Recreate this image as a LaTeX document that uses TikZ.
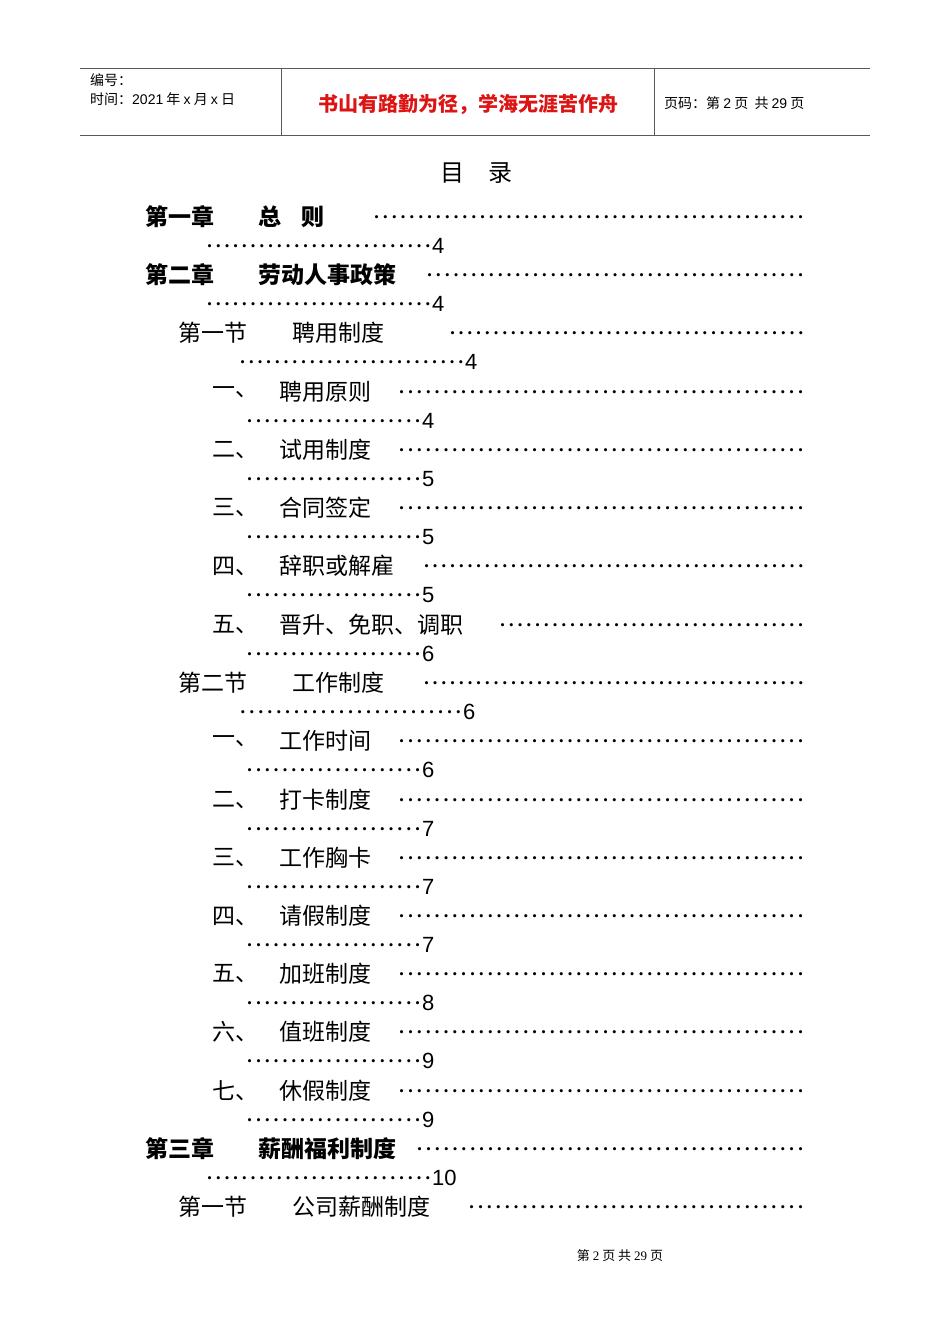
\documentclass[tikz,border=0pt]{standalone}
\usepackage{fontspec}
\setmainfont{Liberation Serif}
\newfontfamily\cjk{Noto Sans CJK SC}
\newfontfamily\hd{Liberation Sans}
\definecolor{hdred}{RGB}{220,20,20}
\newcommand\leaderrow[3]{\node[anchor=west,inner sep=0pt] at (#1,#3) {\makebox[\dimexpr#2pt-#1pt\relax]{\xleaders\hbox to 8.7pt{\hss\fontsize{13}{13}\selectfont\textbullet\hss}\hfill}};}
\newcommand\tocrow[9]{%
 \node[anchor=west,inner sep=0pt] at (#1,#2) {\fontsize{23}{23}\selectfont\cjk #3};
 \node[anchor=west,inner sep=0pt] at (#4,#2) {\fontsize{23}{23}\selectfont\cjk #5};
 \leaderrow{#6}{805}{#2+2}
 \leaderrow{#7}{#8}{#2+31}
 \node[anchor=west,inner sep=0pt] at (#8,#2+29) {\fontsize{22}{22}\selectfont\hd #9};}
\begin{document}
\begin{tikzpicture}[x=1pt,y=-1pt]
\useasboundingbox[fill=white] (0,0) rectangle (950,1344);
\draw[gray!70!black,line width=0.8pt] (80,68) -- (870,68);
\draw[gray!70!black,line width=0.8pt] (80,135) -- (870,135);
\draw[gray!70!black,line width=0.8pt] (281,68) -- (281,135);
\draw[gray!70!black,line width=0.8pt] (654,68) -- (654,135);
\node[anchor=west,inner sep=0pt] (no) at (90,80) {\fontsize{14}{14}\selectfont\cjk 编号：};
\node[anchor=west,inner sep=0pt] (tm) at (90,99) {\fontsize{14}{14}\selectfont\cjk 时间：{\hd 2021} 年 {\hd x} 月 {\hd x} 日};
\node[inner sep=0pt,text=hdred] (motto) at (468,104) {\fontsize{20}{20}\selectfont\cjk\bfseries 书山有路勤为径，学海无涯苦作舟};
\node[anchor=west,inner sep=0pt] (pg) at (664,103) {\fontsize{14}{14}\selectfont\cjk 页码：第 {\hd 2} 页\ \ 共 {\hd 29} 页};
\node[inner sep=0pt] (title) at (476,173) {\fontsize{24}{24}\selectfont\cjk 目\quad 录};
\tocrow{145}{217}{\bfseries 第一章}{258}{\bfseries 总\hspace{0.9em}则}{372}{205}{432}{4}
\tocrow{145}{275}{\bfseries 第二章}{258}{\bfseries 劳动人事政策}{425}{205}{432}{4}
\tocrow{178}{333}{第一节}{292}{聘用制度}{448}{238}{465}{4}
\tocrow{212}{392}{一、}{279}{聘用原则}{397}{245}{422}{4}
\tocrow{212}{450}{二、}{279}{试用制度}{397}{245}{422}{5}
\tocrow{212}{508}{三、}{279}{合同签定}{397}{245}{422}{5}
\tocrow{212}{566}{四、}{279}{辞职或解雇}{422}{245}{422}{5}
\tocrow{212}{625}{五、}{279}{晋升、免职、调职}{498}{245}{422}{6}
\tocrow{178}{683}{第二节}{292}{工作制度}{422}{238}{463}{6}
\tocrow{212}{741}{一、}{279}{工作时间}{397}{245}{422}{6}
\tocrow{212}{800}{二、}{279}{打卡制度}{397}{245}{422}{7}
\tocrow{212}{858}{三、}{279}{工作胸卡}{397}{245}{422}{7}
\tocrow{212}{916}{四、}{279}{请假制度}{397}{245}{422}{7}
\tocrow{212}{974}{五、}{279}{加班制度}{397}{245}{422}{8}
\tocrow{212}{1032}{六、}{279}{值班制度}{397}{245}{422}{9}
\tocrow{212}{1091}{七、}{279}{休假制度}{397}{245}{422}{9}
\tocrow{145}{1149}{\bfseries 第三章}{258}{\bfseries 薪酬福利制度}{415}{205}{432}{10}
\node[anchor=west,inner sep=0pt] (s31) at (178,1207) {\fontsize{23}{23}\selectfont\cjk 第一节};
\node[anchor=west,inner sep=0pt] (s31t) at (292,1207) {\fontsize{23}{23}\selectfont\cjk 公司薪酬制度};
\leaderrow{467}{805}{1209}
\node[inner sep=0pt] (foot) at (620,1256) {\fontsize{13}{13}\selectfont\cjk 第 {\rmfamily 2} 页 共 {\rmfamily 29} 页};
\end{tikzpicture}
\end{document}
